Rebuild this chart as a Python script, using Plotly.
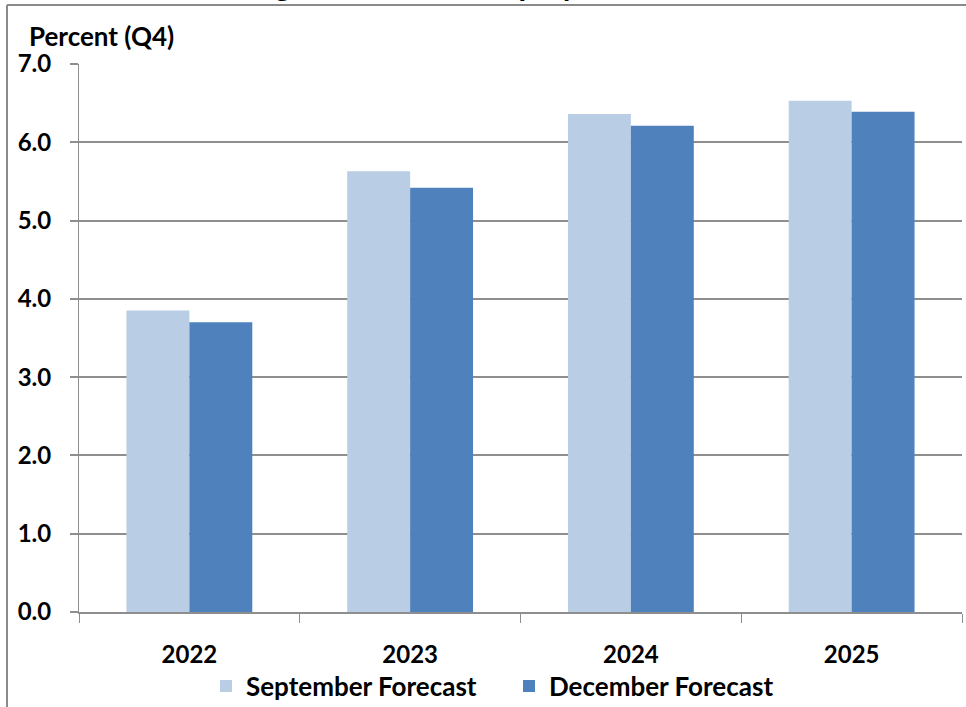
import plotly.graph_objects as go

years = ["2022", "2023", "2024", "2025"]
september = [3.85, 5.63, 6.36, 6.53]
december = [3.70, 5.42, 6.21, 6.39]
series_names = ["September Forecast", "December Forecast"]
colors = ["#B9CDE5", "#4F81BD"]
y_ticks = [0, 1, 2, 3, 4, 5, 6, 7]

FONT = "Lato"
W, H = 966, 707
L, R, T, B = 79, 4, 64, 95
pw, ph = W - L - R, H - T - B

def px_x(x):
    return (x - L) / pw

def px_y(y):
    return (H - B - y) / ph

fig = go.Figure()
for name, vals, col in zip(series_names, [september, december], colors):
    fig.add_trace(go.Bar(x=years, y=vals, name=name, marker_color=col,
                         marker_line_width=0))

grid_col = "#8E8E8E"
fig.update_layout(
    width=W, height=H,
    margin=dict(l=L, r=R, t=T, b=B, autoexpand=False),
    paper_bgcolor="white", plot_bgcolor="white",
    barmode="group", bargap=0.43, bargroupgap=0,
    font=dict(family=FONT, color="black"),
    showlegend=True,
    legend=dict(orientation="h", xref="container", yref="container",
                x=509 / W, xanchor="center", y=1 - 686 / H, yanchor="middle",
                font=dict(family=FONT, size=26, color="black", weight="bold"),
                itemwidth=30, traceorder="normal", entrywidth=258, entrywidthmode="pixels"),
    xaxis=dict(type="category", showline=True, linecolor=grid_col, linewidth=2,
               ticks="outside", tickson="boundaries", ticklen=9, tickcolor=grid_col, tickwidth=1,
               tickfont=dict(family=FONT, size=24, color="black", weight="bold"),
               ticklabelstandoff=20, showgrid=False, automargin=False),
    yaxis=dict(range=[0, 7], tickvals=y_ticks, tickformat=".1f",
               showgrid=True, gridcolor=grid_col, gridwidth=2,
               showline=True, linecolor=grid_col, linewidth=1,
               ticks="outside", ticklen=8, tickcolor=grid_col, tickwidth=2,
               tickfont=dict(family=FONT, size=24, color="black", weight="bold"),
               ticklabelstandoff=14, zeroline=False, automargin=False),
)

fig.add_annotation(text="Percent (Q4)", xref="paper", yref="paper",
                   x=px_x(27), y=px_y(36), xanchor="left", yanchor="middle",
                   showarrow=False, font=dict(family=FONT, size=26, color="black", weight="bold"))

fig.add_annotation(text="Figure 2: The Unemployment Rate Forecast", xref="paper", yref="paper",
                   x=px_x(247), y=px_y(5), xanchor="left", yanchor="bottom",
                   showarrow=False, font=dict(family=FONT, size=31, color="black", weight="bold"))

# chart-area border (top and left edges visible in the crop)
fig.add_shape(type="line", xref="paper", yref="paper", x0=px_x(7), x1=px_x(970),
              y0=px_y(5), y1=px_y(5), line=dict(color="#8A8A8A", width=2))
fig.add_shape(type="line", xref="paper", yref="paper", x0=px_x(7), x1=px_x(7),
              y0=px_y(5), y1=px_y(710), line=dict(color="#8A8A8A", width=2))

fig.write_html("out.html", config={"displayModeBar": False},
               post_script="document.body.style.margin='0';document.body.style.overflow='hidden';")
